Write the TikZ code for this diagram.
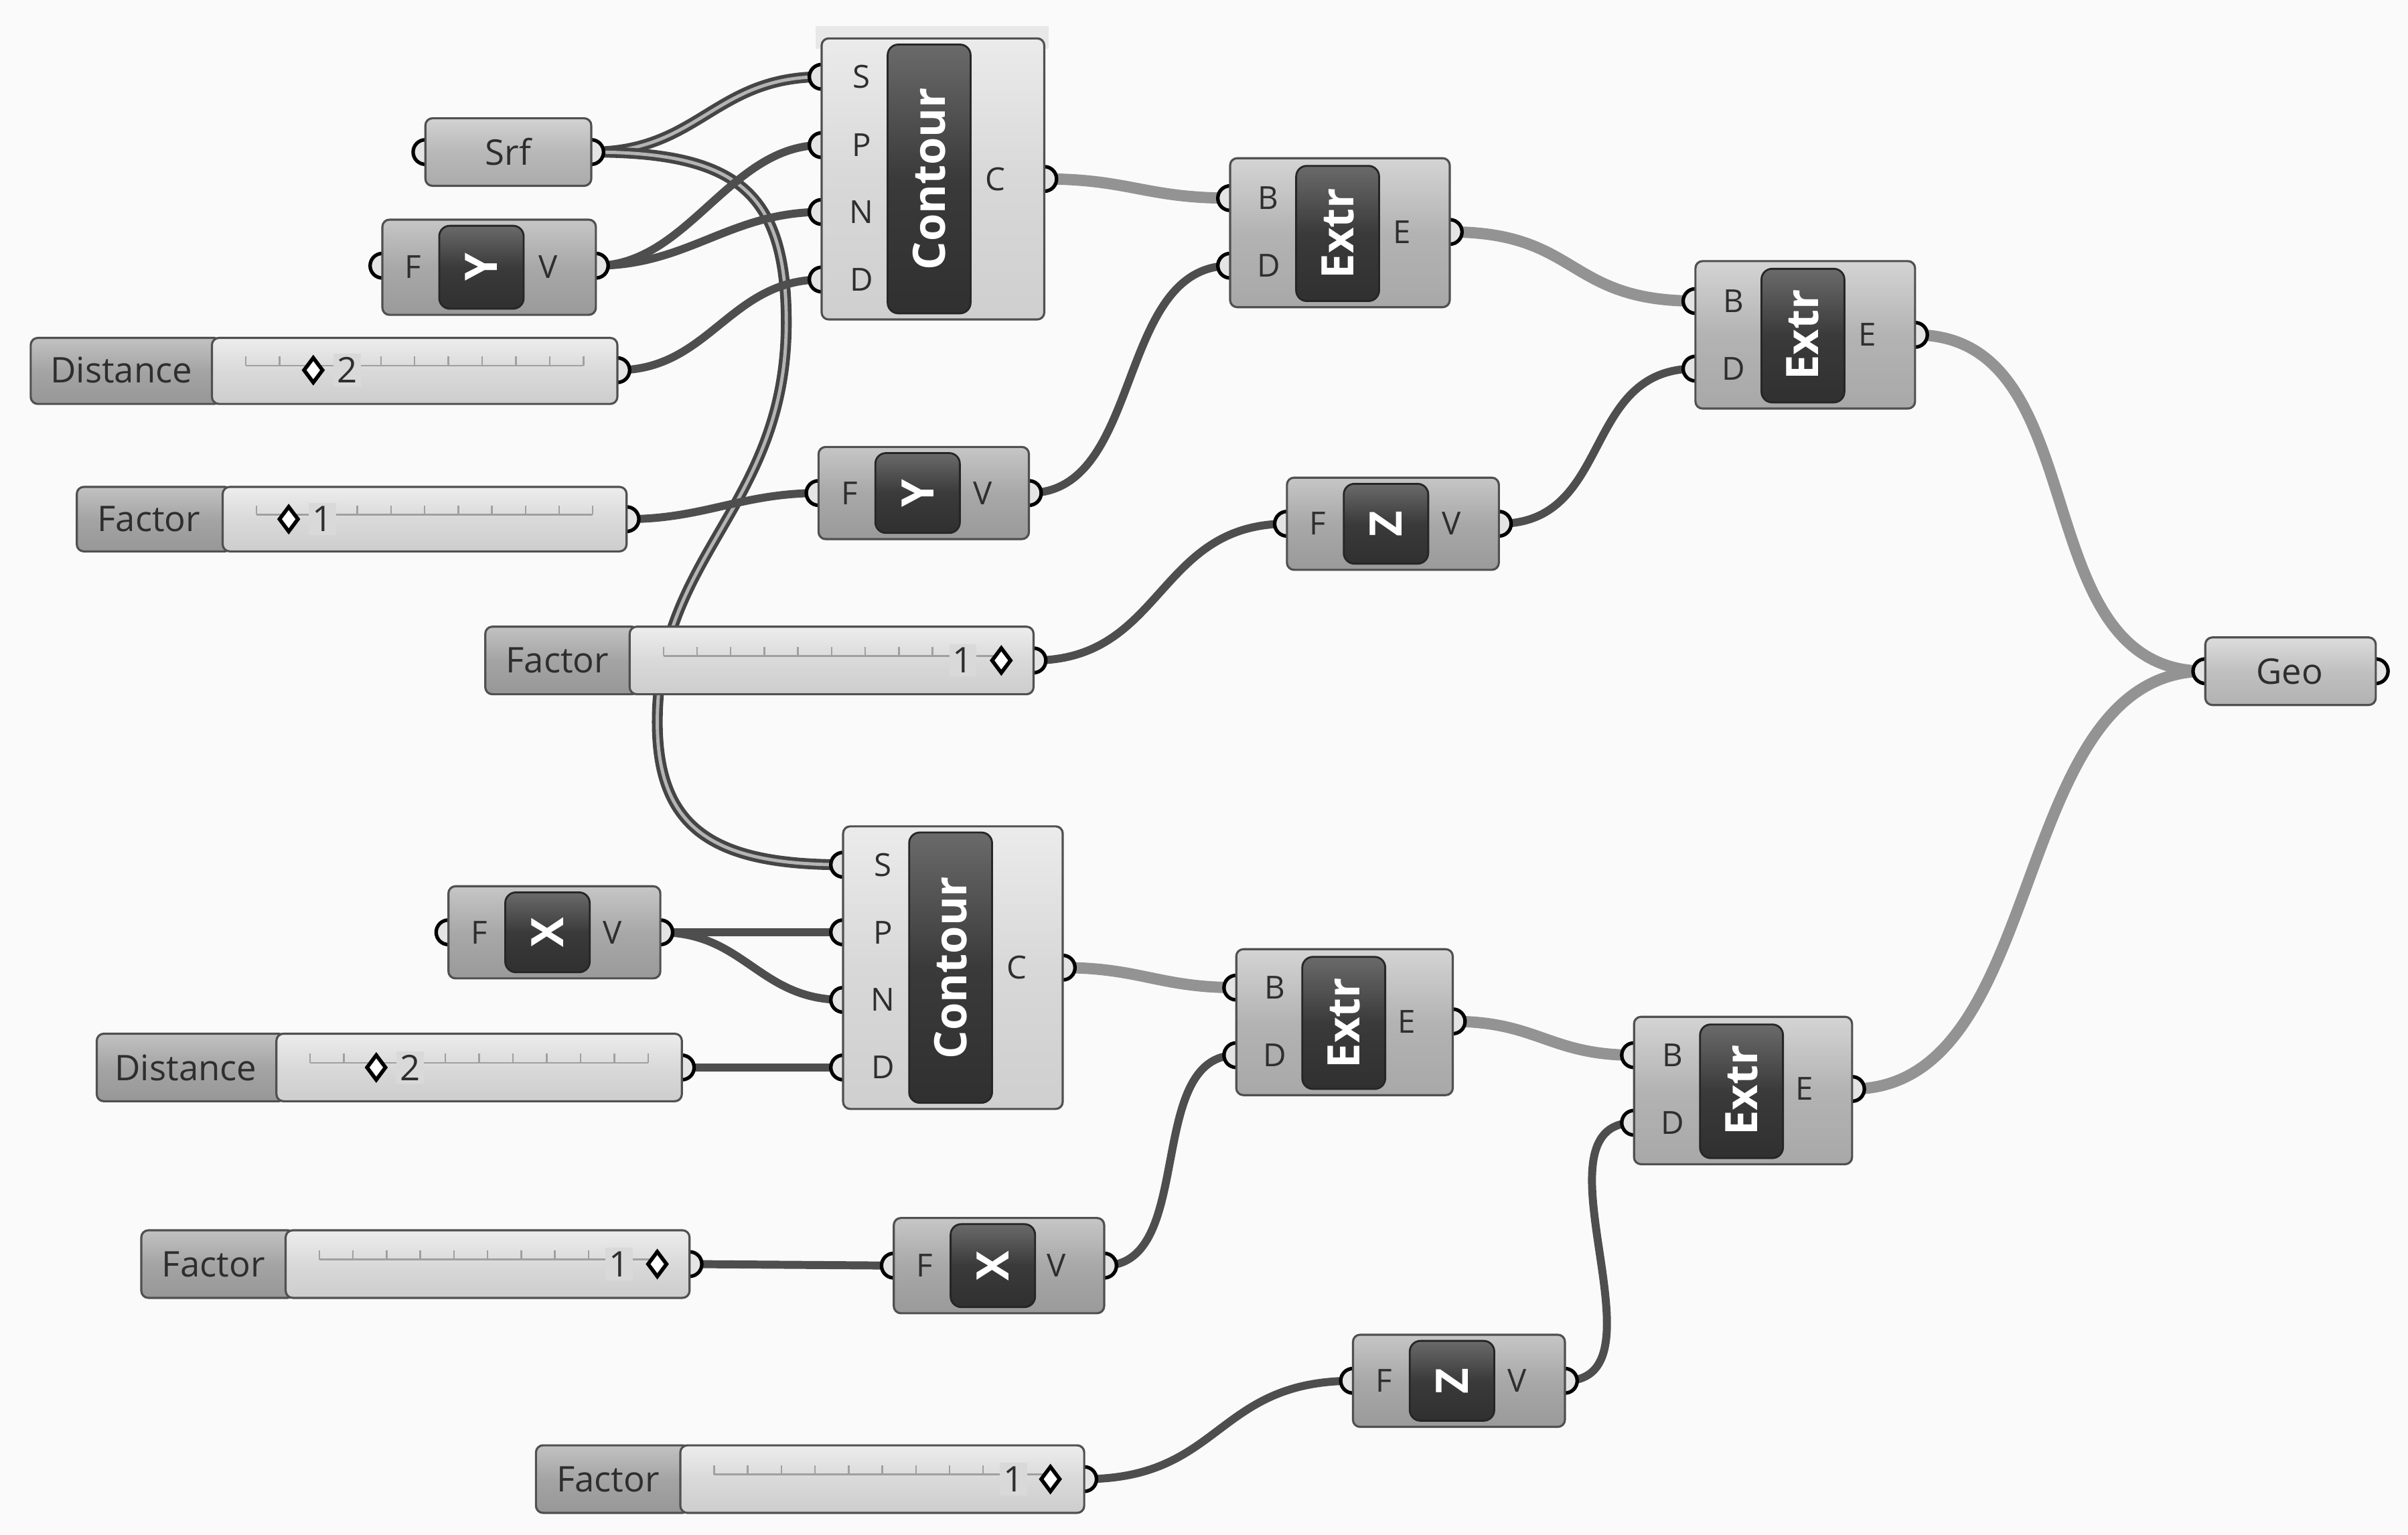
\documentclass[tikz,border=0pt]{standalone}
\usepackage{fontspec}
\setmainfont{Open Sans}
\definecolor{bgc}{HTML}{FAFAFA}
\definecolor{wdark}{HTML}{4E4E4E}
\definecolor{wlist}{HTML}{454545}
\definecolor{wlistin}{HTML}{B4B4B4}
\definecolor{wthick}{HTML}{939393}
\definecolor{boxline}{HTML}{505050}
\definecolor{txt}{HTML}{2E2E2E}
\definecolor{portfill}{HTML}{E4E4E4}
\definecolor{exT}{HTML}{D4D4D4}\definecolor{exM}{HTML}{B3B3B3}\definecolor{exB}{HTML}{A8A8A8}
\definecolor{coT}{HTML}{EBEBEB}\definecolor{coM}{HTML}{D8D8D8}\definecolor{coB}{HTML}{CFCFCF}
\definecolor{veT}{HTML}{C6C6C6}\definecolor{veM}{HTML}{A8A8A8}\definecolor{veB}{HTML}{9A9A9A}
\definecolor{paT}{HTML}{D2D2D2}\definecolor{paM}{HTML}{B8B8B8}\definecolor{paB}{HTML}{ABABAB}
\definecolor{geT}{HTML}{DCDCDC}\definecolor{geM}{HTML}{C0C0C0}\definecolor{geB}{HTML}{B2B2B2}
\definecolor{slT}{HTML}{C2C2C2}\definecolor{slM}{HTML}{A4A4A4}\definecolor{slB}{HTML}{979797}
\definecolor{sbT}{HTML}{EDEDED}\definecolor{sbM}{HTML}{D9D9D9}\definecolor{sbB}{HTML}{CDCDCD}
\definecolor{dkT}{HTML}{6A6A6A}\definecolor{dkM}{HTML}{3A3A3A}\definecolor{dkB}{HTML}{303030}
\definecolor{tickc}{HTML}{A0A0A0}
\tikzset{
  wireS/.style={draw=wdark, line width=3.4pt},
  wireL/.style={draw=wlist, line width=1.6pt, double=wlistin, double distance=1.4pt},
  wireT/.style={draw=wthick, line width=4.8pt},
  portc/.style={fill=portfill, draw=black, line width=1.5pt},
  boxbase/.style={draw=boxline, line width=0.9pt, rounded corners=3pt},
  extrbox/.style={boxbase, top color=exT, bottom color=exB, middle color=exM},
  contbox/.style={boxbase, top color=coT, bottom color=coB, middle color=coM},
  vecbox/.style={boxbase, top color=veT, bottom color=veB, middle color=veM},
  parbox/.style={boxbase, top color=paT, bottom color=paB, middle color=paM},
  geobox/.style={boxbase, top color=geT, bottom color=geB, middle color=geM},
  sllab/.style={boxbase, top color=slT, bottom color=slB, middle color=slM},
  slbody/.style={boxbase, top color=sbT, bottom color=sbB, middle color=sbM},
  darkbox/.style={draw=black!85, line width=0.8pt, rounded corners=4.5pt, top color=dkT, bottom color=dkB, middle color=dkM},
  lbl/.style={text=txt, font=\fontsize{15}{18}\selectfont, inner sep=0pt},
  plbl/.style={text=txt, font=\fontsize{13.5}{15}\selectfont, inner sep=0pt},
  big/.style={text=white, font=\bfseries\fontsize{19}{22}\selectfont, inner sep=0pt, rotate=90},
  val/.style={lbl, fill=sbM, inner sep=1.5pt},
  tick/.style={draw=tickc, line width=0.7pt},
  diam/.style={fill=white, draw=black, line width=1.6pt}
}
\newcommand\slticks[3]{%
  \draw[tick] (#1,#3) -- (#2,#3);
  \foreach \i in {0,...,10} \draw[tick] ({#1+\i*(#2-#1)/10},#3) -- ++(0,-6);}
\newcommand\diamondat[2]{\draw[diam] (#1,#2-8) -- (#1+6,#2) -- (#1,#2+8) -- (#1-6,#2) -- cycle;}
\begin{document}
\begin{tikzpicture}[x=0.022934cm,y=-0.022934cm]
\fill[bgc] (0,0) rectangle (1568,999);
\useasboundingbox (0,0) rectangle (1568,999);
% ---------- port coordinates ----------
\coordinate (srf-in) at (277,99);  \coordinate (srf-out) at (385,99);
\coordinate (y1-in) at (249,173);  \coordinate (y1-out) at (388,173);
\coordinate (dist1-out) at (402,241);
\coordinate (fac1-out) at (408,338);
\coordinate (y2-in) at (533,321);  \coordinate (y2-out) at (670,321);
\coordinate (fac2-out) at (673,430);
\coordinate (z1-in) at (838,341);  \coordinate (z1-out) at (976,341);
\coordinate (c1-s) at (535,50); \coordinate (c1-p) at (535,94.5);
\coordinate (c1-n) at (535,138); \coordinate (c1-d) at (535,182);
\coordinate (c1-c) at (680,116.5);
\coordinate (e1-b) at (801,129); \coordinate (e1-d) at (801,173); \coordinate (e1-e) at (944,151);
\coordinate (e2-b) at (1104,196); \coordinate (e2-d) at (1104,240); \coordinate (e2-e) at (1247,218);
\coordinate (geo-in) at (1436,437); \coordinate (geo-out) at (1547,437);
\coordinate (c2-s) at (549,563); \coordinate (c2-p) at (549,607);
\coordinate (c2-n) at (549,651); \coordinate (c2-d) at (549,695);
\coordinate (c2-c) at (692,630);
\coordinate (x1-in) at (292,607); \coordinate (x1-out) at (430,607);
\coordinate (dist2-out) at (444,695);
\coordinate (e3-b) at (805,643); \coordinate (e3-d) at (805,687); \coordinate (e3-e) at (946,665);
\coordinate (e4-b) at (1064,687); \coordinate (e4-d) at (1064,731); \coordinate (e4-e) at (1206,709);
\coordinate (fac3-out) at (449,823);
\coordinate (x2-in) at (582,824); \coordinate (x2-out) at (719,824);
\coordinate (z2-in) at (881,899); \coordinate (z2-out) at (1019,899);
\coordinate (fac4-out) at (706,963);
% ---------- wires ----------
\draw[wireL] (srf-out) .. controls +(70,0) and +(-70,0) .. (c1-s);
\draw[wireL] (srf-out) .. controls (480,99) and (512,125) .. (512,210)
   .. controls (512,330) and (428,360) .. (428,470)
   .. controls (428,540) and (465,563) .. (c2-s);
\draw[wireS] (y1-out) .. controls +(60,0) and +(-60,0) .. (c1-p);
\draw[wireS] (y1-out) .. controls +(60,0) and +(-60,0) .. (c1-n);
\draw[wireS] (dist1-out) .. controls +(60,0) and +(-60,0) .. (c1-d);
\draw[wireS] (fac1-out) .. controls +(50,0) and +(-50,0) .. (y2-in);
\draw[wireS] (y2-out) .. controls +(75,0) and +(-75,0) .. (e1-d);
\draw[wireS] (fac2-out) .. controls +(85,0) and +(-85,0) .. (z1-in);
\draw[wireS] (z1-out) .. controls +(75,0) and +(-75,0) .. (e2-d);
\draw[wireS] (x1-out) -- (c2-p);
\draw[wireS] (x1-out) .. controls +(55,0) and +(-55,0) .. (c2-n);
\draw[wireS] (dist2-out) -- (c2-d);
\draw[wireS] (fac3-out) -- (x2-in);
\draw[wireS] (x2-out) .. controls +(60,0) and +(-60,0) .. (e3-d);
\draw[wireS] (fac4-out) .. controls +(90,0) and +(-90,0) .. (z2-in);
\draw[wireS] (z2-out) .. controls +(70,0) and +(-70,0) .. (e4-d);
\draw[wireT] (c1-c) .. controls +(55,0) and +(-55,0) .. (e1-b);
\draw[wireT] (e1-e) .. controls +(85,0) and +(-85,0) .. (e2-b);
\draw[wireT] (e2-e) .. controls +(120,0) and +(-120,0) .. (geo-in);
\draw[wireT] (c2-c) .. controls +(50,0) and +(-50,0) .. (e3-b);
\draw[wireT] (e3-e) .. controls +(55,0) and +(-55,0) .. (e4-b);
\draw[wireT] (e4-e) .. controls +(130,0) and +(-130,0) .. (geo-in);
% ---------- ports ----------
\foreach \p in {srf-in,srf-out,y1-in,y1-out,dist1-out,fac1-out,y2-in,y2-out,fac2-out,
  z1-in,z1-out,c1-s,c1-p,c1-n,c1-d,c1-c,e1-b,e1-d,e1-e,e2-b,e2-d,e2-e,geo-in,geo-out,
  c2-s,c2-p,c2-n,c2-d,c2-c,x1-in,x1-out,dist2-out,e3-b,e3-d,e3-e,e4-b,e4-d,e4-e,
  fac3-out,x2-in,x2-out,z2-in,z2-out,fac4-out}
  \filldraw[portc] (\p) circle[radius=8];
% ---------- Srf ----------
\shadedraw[parbox] (277,77) rectangle (385,121);
\node[lbl] (srf-t) at (331,99) {Srf};
% ---------- Y vector 1 ----------
\shadedraw[vecbox] (249,143) rectangle (388,205);
\shadedraw[darkbox] (286,147) rectangle (341,201);
\node[plbl] (y1-f) at (269,174) {F};
\node[big] (y1-t) at (313.5,174) {Y};
\node[plbl] (y1-v) at (357,174) {V};
% ---------- Distance 1 ----------
\shadedraw[sllab] (20,220) rectangle (144,263);
\shadedraw[slbody] (138,220) rectangle (402,263);
\slticks{160}{380}{238}
\diamondat{204}{241}
\node[val] (dist1-v) at (226,241) {2};
\node[lbl] (dist1-t) at (79,241) {Distance};
% ---------- Factor 1 ----------
\shadedraw[sllab] (50,317) rectangle (151,359);
\shadedraw[slbody] (145,317) rectangle (408,359);
\slticks{167}{386}{335}
\diamondat{188}{338}
\node[val] (fac1-v) at (210,338) {1};
\node[lbl] (fac1-t) at (97,338) {Factor};
% ---------- Y vector 2 ----------
\shadedraw[vecbox] (533,291) rectangle (670,351);
\shadedraw[darkbox] (570,295) rectangle (625,347);
\node[plbl] (y2-f) at (553,321) {F};
\node[big] (y2-t) at (597.5,321) {Y};
\node[plbl] (y2-v) at (640,321) {V};
% ---------- Factor 2 ----------
\shadedraw[sllab] (316,408) rectangle (416,452);
\shadedraw[slbody] (410,408) rectangle (673,452);
\slticks{432}{651}{427}
\node[val] (fac2-v) at (627,430) {1};
\diamondat{652}{430}
\node[lbl] (fac2-t) at (363,430) {Factor};
% ---------- Z vector 1 ----------
\shadedraw[vecbox] (838,311) rectangle (976,371);
\shadedraw[darkbox] (875,315) rectangle (930,367);
\node[plbl] (z1-f) at (858,341) {F};
\node[big] (z1-t) at (902.5,341) {Z};
\node[plbl] (z1-v) at (945,341) {V};
% ---------- Contour 1 ----------
\fill[black!9] (531,17) rectangle (683,32);
\shadedraw[contbox] (535,25) rectangle (680,208);
\shadedraw[darkbox] (578,29) rectangle (632,204);
\node[plbl] (c1-ls) at (561,50) {S};
\node[plbl] (c1-lp) at (561,94.5) {P};
\node[plbl] (c1-ln) at (561,138) {N};
\node[plbl] (c1-ld) at (561,182) {D};
\node[plbl] (c1-lc) at (648,116.5) {C};
\node[big] (c1-t) at (605,116.5) {Contour};
% ---------- Extrude 1 ----------
\shadedraw[extrbox] (801,103) rectangle (944,200);
\shadedraw[darkbox] (844,108) rectangle (898,196);
\node[plbl] (e1-lb) at (826,129) {B};
\node[plbl] (e1-ld) at (826,173) {D};
\node[plbl] (e1-le) at (913,151) {E};
\node[big] (e1-t) at (871,152) {Extr};
% ---------- Extrude 2 ----------
\shadedraw[extrbox] (1104,170) rectangle (1247,266);
\shadedraw[darkbox] (1147,175) rectangle (1201,262);
\node[plbl] (e2-lb) at (1129,196) {B};
\node[plbl] (e2-ld) at (1129,240) {D};
\node[plbl] (e2-le) at (1216,218) {E};
\node[big] (e2-t) at (1174,218) {Extr};
% ---------- Geo ----------
\shadedraw[geobox] (1436,415) rectangle (1547,459);
\node[lbl] (geo-t) at (1491,437) {Geo};
% ---------- Contour 2 ----------
\shadedraw[contbox] (549,538) rectangle (692,722);
\shadedraw[darkbox] (592,542) rectangle (646,718);
\node[plbl] (c2-ls) at (575,563) {S};
\node[plbl] (c2-lp) at (575,607) {P};
\node[plbl] (c2-ln) at (575,651) {N};
\node[plbl] (c2-ld) at (575,695) {D};
\node[plbl] (c2-lc) at (662,630) {C};
\node[big] (c2-t) at (619,630) {Contour};
% ---------- X vector 1 ----------
\shadedraw[vecbox] (292,577) rectangle (430,637);
\shadedraw[darkbox] (329,581) rectangle (384,633);
\node[plbl] (x1-f) at (312,607) {F};
\node[big] (x1-t) at (356.5,607) {X};
\node[plbl] (x1-v) at (399,607) {V};
% ---------- Distance 2 ----------
\shadedraw[sllab] (63,673) rectangle (186,717);
\shadedraw[slbody] (180,673) rectangle (444,717);
\slticks{202}{422}{692}
\diamondat{245}{695}
\node[val] (dist2-v) at (267,695) {2};
\node[lbl] (dist2-t) at (121,695) {Distance};
% ---------- Extrude 3 ----------
\shadedraw[extrbox] (805,618) rectangle (946,713);
\shadedraw[darkbox] (848,623) rectangle (902,709);
\node[plbl] (e3-lb) at (830,643) {B};
\node[plbl] (e3-ld) at (830,687) {D};
\node[plbl] (e3-le) at (916,665) {E};
\node[big] (e3-t) at (875,666) {Extr};
% ---------- Extrude 4 ----------
\shadedraw[extrbox] (1064,662) rectangle (1206,758);
\shadedraw[darkbox] (1107,667) rectangle (1161,754);
\node[plbl] (e4-lb) at (1089,687) {B};
\node[plbl] (e4-ld) at (1089,731) {D};
\node[plbl] (e4-le) at (1175,709) {E};
\node[big] (e4-t) at (1134,710) {Extr};
% ---------- Factor 3 ----------
\shadedraw[sllab] (92,801) rectangle (192,845);
\shadedraw[slbody] (186,801) rectangle (449,845);
\slticks{208}{427}{820}
\node[val] (fac3-v) at (403,823) {1};
\diamondat{428}{823}
\node[lbl] (fac3-t) at (139,823) {Factor};
% ---------- X vector 2 ----------
\shadedraw[vecbox] (582,793) rectangle (719,855);
\shadedraw[darkbox] (619,797) rectangle (674,851);
\node[plbl] (x2-f) at (602,824) {F};
\node[big] (x2-t) at (646.5,824) {X};
\node[plbl] (x2-v) at (688,824) {V};
% ---------- Z vector 2 ----------
\shadedraw[vecbox] (881,869) rectangle (1019,929);
\shadedraw[darkbox] (918,873) rectangle (973,925);
\node[plbl] (z2-f) at (901,899) {F};
\node[big] (z2-t) at (945.5,899) {Z};
\node[plbl] (z2-v) at (988,899) {V};
% ---------- Factor 4 ----------
\shadedraw[sllab] (349,941) rectangle (449,985);
\shadedraw[slbody] (443,941) rectangle (706,985);
\slticks{465}{684}{960}
\node[val] (fac4-v) at (660,963) {1};
\diamondat{684}{963}
\node[lbl] (fac4-t) at (396,963) {Factor};
\end{tikzpicture}
\end{document}
